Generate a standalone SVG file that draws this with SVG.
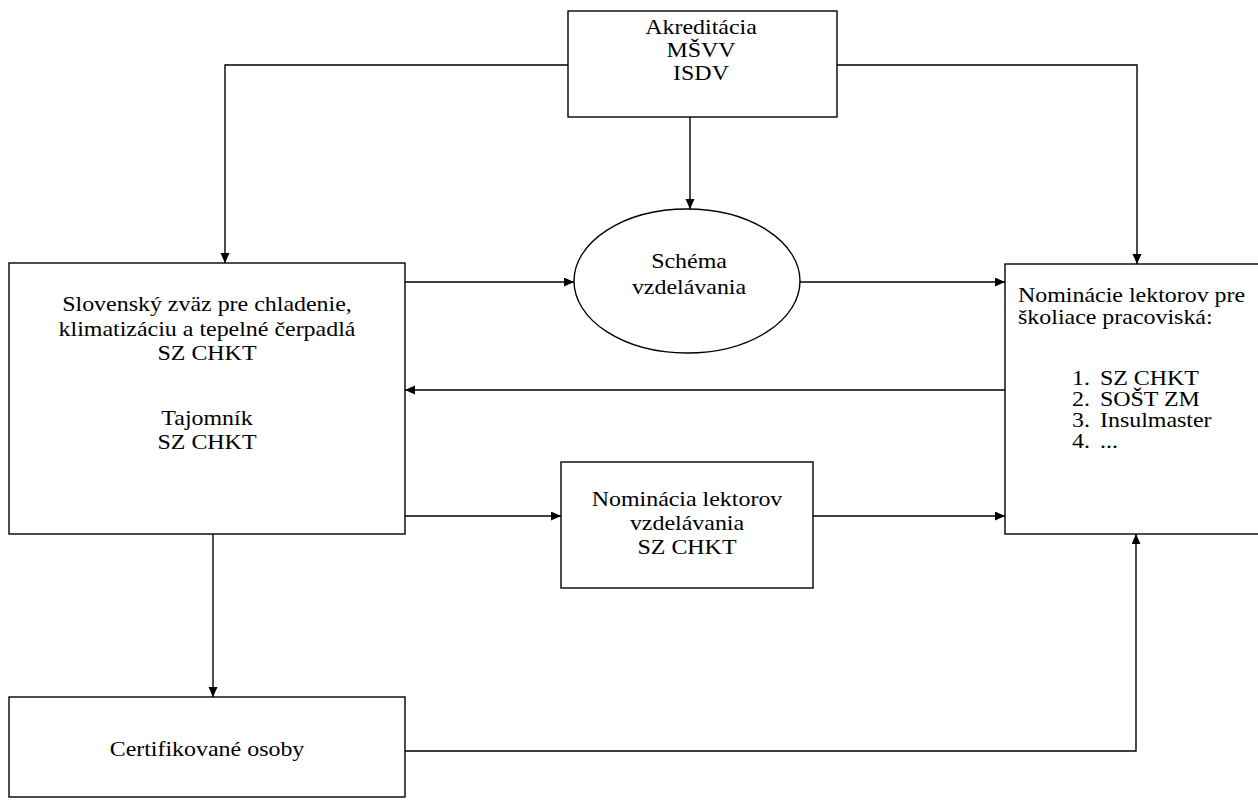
<svg xmlns="http://www.w3.org/2000/svg" width="1258" height="800" viewBox="0 0 1258 800">
<style>
.box{fill:#fff;stroke:#000;stroke-width:1.4}
.conn{fill:none;stroke:#000;stroke-width:1.4}
text{font-family:"Liberation Serif","Times New Roman",serif;font-size:21px;fill:#000}
.c{text-anchor:middle}
</style>
<defs>
<marker id="arr" markerUnits="userSpaceOnUse" markerWidth="11" markerHeight="10" refX="10" refY="4.5" orient="auto">
<path d="M0,0 L10,4.5 L0,9 z" fill="#000"/>
</marker>
</defs>
<rect width="1258" height="800" fill="#fff"/>
<g id="connectors">
<path class="conn" d="M568,65 H225 V263" marker-end="url(#arr)"/>
<path class="conn" d="M837,65 H1137 V264" marker-end="url(#arr)"/>
<path class="conn" d="M690,117 V209" marker-end="url(#arr)"/>
<path class="conn" d="M405,282 H574" marker-end="url(#arr)"/>
<path class="conn" d="M800,282 H1005" marker-end="url(#arr)"/>
<path class="conn" d="M1005,390 H405" marker-end="url(#arr)"/>
<path class="conn" d="M405,516 H561" marker-end="url(#arr)"/>
<path class="conn" d="M813,516 H1005" marker-end="url(#arr)"/>
<path class="conn" d="M213,534 V697" marker-end="url(#arr)"/>
<path class="conn" d="M405,751 H1136 V534" marker-end="url(#arr)"/>
</g>
<g id="akreditacia">
<rect class="box" x="568" y="11" width="269" height="106"/>
<g transform="translate(701 0) scale(1.14 1)">
<text class="c" x="0" y="34">Akreditácia</text>
<text class="c" x="0" y="57">MŠVV</text>
<text class="c" x="0" y="80">ISDV</text>
</g>
</g>
<g id="szchkt">
<rect class="box" x="9" y="263" width="396" height="271"/>
<g transform="translate(207 0) scale(1.14 1)">
<text class="c" x="0" y="311">Slovenský zväz pre chladenie,</text>
<text class="c" x="0" y="336">klimatizáciu a tepelné čerpadlá</text>
<text class="c" x="0" y="360">SZ CHKT</text>
<text class="c" x="0" y="425">Tajomník</text>
<text class="c" x="0" y="449">SZ CHKT</text>
</g>
</g>
<g id="schema">
<ellipse class="box" cx="687" cy="281" rx="113" ry="72"/>
<g transform="translate(689 0) scale(1.14 1)">
<text class="c" x="0" y="268">Schéma</text>
<text class="c" x="0" y="294">vzdelávania</text>
</g>
</g>
<g id="nominacie">
<rect class="box" x="1005" y="264" width="262" height="270"/>
<g transform="translate(1018 0) scale(1.14 1)">
<text x="0" y="302">Nominácie lektorov pre</text>
<text x="0" y="324">školiace pracoviská:</text>
<text x="47.4" y="385">1.</text>
<text x="71.9" y="385">SZ CHKT</text>
<text x="47.4" y="406">2.</text>
<text x="71.9" y="406">SOŠT ZM</text>
<text x="47.4" y="427">3.</text>
<text x="71.9" y="427">Insulmaster</text>
<text x="47.4" y="448">4.</text>
<text x="71.9" y="448">...</text>
</g>
</g>
<g id="nominacia">
<rect class="box" x="561" y="462" width="252" height="126"/>
<g transform="translate(687 0) scale(1.14 1)">
<text class="c" x="0" y="506">Nominácia lektorov</text>
<text class="c" x="0" y="530">vzdelávania</text>
<text class="c" x="0" y="554">SZ CHKT</text>
</g>
</g>
<g id="certifikovane">
<rect class="box" x="9" y="697" width="396" height="100"/>
<g transform="translate(207 0) scale(1.14 1)">
<text class="c" x="0" y="756">Certifikované osoby</text>
</g>
</g>
</svg>
